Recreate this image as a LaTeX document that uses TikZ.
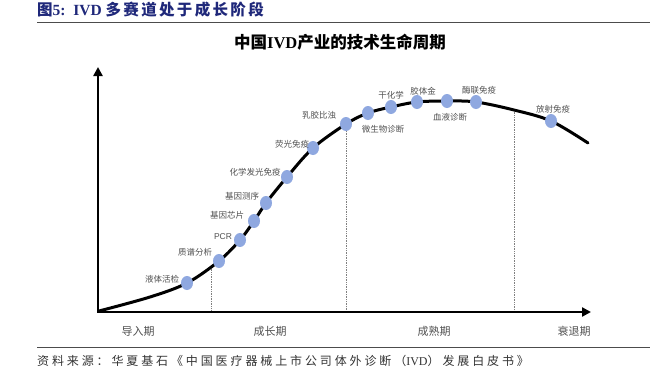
\documentclass[tikz,border=0pt]{standalone}
\usepackage{fontspec}
\setmainfont{Liberation Serif}
\newfontfamily\cjk{Noto Sans CJK SC}
\newfontfamily\lsans{Liberation Sans}
\usepackage{tikz}
\usetikzlibrary{shapes.geometric, arrows.meta}
\definecolor{dotblue}{RGB}{143,168,224}
\definecolor{headblue}{RGB}{31,40,122}
\definecolor{labelgray}{RGB}{80,80,80}
\tikzset{
  tech/.style={ellipse, fill=dotblue, minimum width=12pt, minimum height=14pt, inner sep=0pt},
  techlabel/.style={font=\cjk\fontsize{8.5}{9}\selectfont, text=labelgray, inner sep=1pt},
  stage/.style={font=\cjk\fontsize{11}{11}\selectfont, text=labelgray},
  guide/.style={densely dotted, gray, line width=0.7pt},
  rule/.style={line width=1pt, black!70}
}

\begin{document}
\begin{tikzpicture}[x=1pt, y=-1pt]
\useasboundingbox (0,0) rectangle (659,375);

\node[anchor=west, inner sep=0pt, text=headblue, font=\bfseries\fontsize{15.5}{16}\selectfont] (head) at (37,10) {{\cjk 图}5:\ \ IVD {\cjk\addfontfeature{LetterSpace=15}多赛道处于成长阶段}};
\draw[rule] (37,22) -- (650,22);
\node[font=\bfseries\fontsize{16.5}{17}\selectfont] (title) at (340,42) {{\cjk 中国}IVD{\cjk 产业的技术生命周期}};

% axes
\coordinate (O) at (98,312);
\coordinate (ytop) at (98,67);
\coordinate (xend) at (591,312);

% points on the curve
\coordinate (c0) at (99,311);
\coordinate (c1) at (150,297);
\coordinate (t1) at (187,283);
\coordinate (t2) at (219,261);
\coordinate (t3) at (240,240);
\coordinate (t4) at (254,221);
\coordinate (t5) at (266,203);
\coordinate (t6) at (287,177);
\coordinate (t7) at (313,148);
\coordinate (t8) at (346,124);
\coordinate (t9) at (368,113);
\coordinate (t10) at (391,107);
\coordinate (t11) at (417,102);
\coordinate (t12) at (447,101);
\coordinate (t13) at (476,102);
\coordinate (c2) at (514,110);
\coordinate (t14) at (551,121);
\coordinate (c3) at (588,143);

\coordinate (g1) at (211,267);
\coordinate (g1b) at (211,312);
\coordinate (g2b) at (346,312);
\coordinate (g3b) at (514,312);
\draw[guide] (g1) -- (g1b);
\draw[guide] (t8) -- (g2b);
\draw[guide] (c2) -- (g3b);

\draw[line width=2.5pt, {Triangle[length=9pt,width=9pt]}-{Triangle[length=9pt,width=9pt]}] (ytop) -- (O) -- (xend);

\draw[line width=3pt, line cap=round] plot[smooth, tension=0.55] coordinates {(c0) (c1) (t1) (t2) (t3) (t4) (t5) (t6) (t7) (t8) (t9) (t10) (t11) (t12) (t13) (c2) (t14) (c3)};

\foreach \p in {t1,t2,t3,t4,t5,t6,t7,t8,t9,t10,t11,t12,t13,t14}
  \node[tech] (d\p) at (\p) {};

\node[techlabel] (l1) at (162,279) {液体活检};
\node[techlabel] (l2) at (195,252) {质谱分析};
\node[techlabel, font=\lsans\fontsize{8.5}{9}\selectfont] (l3) at (223,237) {PCR};
\node[techlabel] (l4) at (227,215) {基因芯片};
\node[techlabel] (l5) at (242,196) {基因测序};
\node[techlabel] (l6) at (255,172) {化学发光免疫};
\node[techlabel] (l7) at (292,144) {荧光免疫};
\node[techlabel] (l8) at (319,115) {乳胶比浊};
\node[techlabel] (l9) at (383,129) {微生物诊断};
\node[techlabel] (l10) at (391,95) {干化学};
\node[techlabel] (l11) at (423,91) {胶体金};
\node[techlabel] (l12) at (450,117) {血液诊断};
\node[techlabel] (l13) at (479,90) {酶联免疫};
\node[techlabel] (l14) at (553,109) {放射免疫};

\node[stage] (s1) at (138,331) {导入期};
\node[stage] (s2) at (270,331) {成长期};
\node[stage] (s3) at (434,331) {成熟期};
\node[stage] (s4) at (574,331) {衰退期};

\draw[rule] (37,347) -- (650,347);
\node[anchor=west, inner sep=0pt, font=\fontsize{12}{12}\selectfont, text=black!80] (src) at (37,361) {{\cjk\addfontfeature{LetterSpace=24}资料来源：华夏基石《中国医疗器械上市公司体外诊断（}IVD{\cjk\addfontfeature{LetterSpace=24}）发展白皮书》}};
\end{tikzpicture}
\end{document}
